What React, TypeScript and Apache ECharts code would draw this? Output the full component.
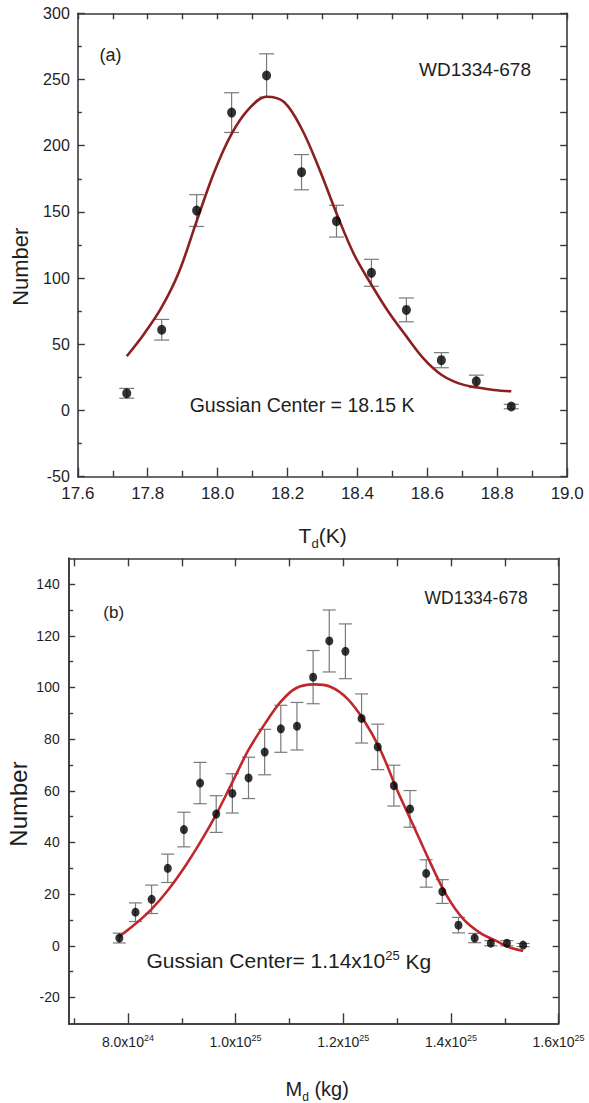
import React, { useEffect, useRef } from 'react';
import * as echarts from 'echarts';

// ---------- Panel (a): dust temperature ----------
const tempX = [17.74, 17.84, 17.94, 18.04, 18.14, 18.24, 18.34, 18.44, 18.54, 18.64, 18.74, 18.84];
const tempN = [13, 61, 151, 225, 253, 180, 143, 104, 76, 38, 22, 3];
const tempErr = [3.7, 7.8, 12, 15, 16.4, 13.3, 12, 10.2, 9, 5.7, 4.7, 1.7];
const tempFitX = [17.74, 17.79, 17.84, 17.89, 17.94, 17.99, 18.04, 18.09, 18.14, 18.19, 18.24, 18.29, 18.34, 18.39, 18.44, 18.49, 18.54, 18.59, 18.64, 18.69, 18.74, 18.79, 18.84];
const tempFitY = [41, 58, 78, 105, 143, 180, 209, 228, 237, 233, 213, 183, 149, 118, 95, 74, 56, 39, 27, 20.5, 17.5, 15.5, 14.5];

// ---------- Panel (b): dust mass (x in units of 1e24 kg) ----------
const massX = [7.84, 8.14, 8.44, 8.74, 9.04, 9.34, 9.64, 9.94, 10.24, 10.54, 10.84, 11.14, 11.44, 11.74, 12.04, 12.34, 12.64, 12.94, 13.24, 13.54, 13.84, 14.14, 14.44, 14.74, 15.04, 15.34];
const massN = [3, 13, 18, 30, 45, 63, 51, 59, 65, 75, 84, 85, 104, 118, 114, 88, 77, 62, 53, 28, 21, 8, 3, 1, 1, 0.3];
const massErr = [1.9, 3.6, 5.5, 5.5, 6.7, 8, 7.1, 7.6, 8, 8.8, 9.1, 9.2, 10.3, 12, 10.6, 9.5, 8.8, 7.9, 7.1, 5.3, 4.6, 3, 1.8, 1, 1, 0.6];
const massFitX = [7.84, 8.13, 8.44, 8.75, 9.06, 9.37, 9.65, 9.93, 10.24, 10.55, 10.84, 11.12, 11.45, 11.76, 12.07, 12.38, 12.69, 13.0, 13.31, 13.62, 13.93, 14.24, 14.55, 14.86, 15.04, 15.34];
const massFitY = [3.6, 8.3, 14.2, 21.7, 30.7, 41, 51.3, 62.9, 75.8, 86.1, 94.5, 99.7, 101.2, 100.3, 95.8, 87.4, 75.8, 60.3, 46.2, 32, 19.1, 10.1, 4.9, 1.7, -0.3, -2];

// tick labels
const massTicks = [8, 10, 12, 14, 16];
const massTickMantissa = ['8.0', '1.0', '1.2', '1.4', '1.6'];
const massTickExponent = ['24', '25', '25', '25', '25'];
const massMinorTicks = [7, 9, 11, 13, 15];
const massTopTicks = [7, 8, 9, 10, 11, 12, 13, 14, 15, 16];
const massYTicks = [-20, 0, 20, 40, 60, 80, 100, 120, 140];
const massYMinor = [-10, 10, 30, 50, 70, 90, 110, 130];
const massYRight = [-20, -10, 0, 10, 20, 30, 40, 50, 60, 70, 80, 90, 100, 110, 120, 130, 140];

const FONT = "'Liberation Sans', Arial, Helvetica, sans-serif";
const AXIS = '#3a3a3a';
const TXT = '#1e1e1e';
const ERR = '#7a7a7a';

const line = { show: true, onZero: false, lineStyle: { color: AXIS, width: 1.6 } };
const noSplit = { show: false };

function errSeries(xi: number, yi: number, xs: number[], ns: number[], es: number[], cap: number) {
  return {
    type: 'custom',
    xAxisIndex: xi,
    yAxisIndex: yi,
    z: 1,
    data: xs.map((x, i) => [x, ns[i] - es[i], ns[i] + es[i]]),
    renderItem: (params: any, api: any) => {
      const x = api.value(0);
      const lo = api.coord([x, api.value(1)]);
      const hi = api.coord([x, api.value(2)]);
      const hw = cap / 2;
      const st = { stroke: ERR, lineWidth: 1.2 };
      return {
        type: 'group',
        children: [
          { type: 'line', shape: { x1: lo[0], y1: lo[1], x2: hi[0], y2: hi[1] }, style: st },
          { type: 'line', shape: { x1: lo[0] - hw, y1: lo[1], x2: lo[0] + hw, y2: lo[1] }, style: st },
          { type: 'line', shape: { x1: hi[0] - hw, y1: hi[1], x2: hi[0] + hw, y2: hi[1] }, style: st },
        ],
      };
    },
  };
}

function txt(text: string, x: number, y: number, size: number, extra: any = {}) {
  return {
    type: 'text',
    x,
    y,
    rotation: extra.rotation || 0,
    style: {
      text,
      fontSize: size,
      fontFamily: FONT,
      fill: TXT,
      align: extra.align || 'left',
      textAlign: extra.align || 'left',
      verticalAlign: 'middle',
      textVerticalAlign: 'middle',
      rich: extra.rich,
    },
  };
}

export default function App() {
  const ref = useRef<HTMLDivElement>(null);
  useEffect(() => {
    const chart = echarts.init(ref.current!, null, { renderer: 'svg' });
    const option: any = {
      animation: false,
      backgroundColor: '#ffffff',
      grid: [
        { left: 77.8, top: 13.3, width: 489.4, height: 463.4 },
        { left: 68.7, top: 558.3, width: 489.9, height: 465 },
      ],
      xAxis: [
        {
          gridIndex: 0, type: 'value', position: 'bottom', min: 17.6, max: 19.0, interval: 0.2,
          axisLine: line,
          axisTick: { show: true, inside: true, length: 9, lineStyle: { color: AXIS, width: 1.4 } },
          minorTick: { show: true, splitNumber: 2, length: 6, lineStyle: { color: AXIS, width: 1.4 } },
          axisLabel: { fontSize: 17, fontFamily: FONT, color: TXT, margin: 8, formatter: (v: number) => v.toFixed(1) },
          splitLine: noSplit, minorSplitLine: noSplit,
        },
        {
          gridIndex: 0, type: 'value', position: 'top', min: 17.6, max: 19.0, interval: 0.2,
          axisLine: line,
          axisTick: { show: true, inside: true, length: 6, lineStyle: { color: AXIS, width: 1.4 } },
          minorTick: { show: true, splitNumber: 2, length: 6, lineStyle: { color: AXIS, width: 1.4 } },
          axisLabel: { show: false }, splitLine: noSplit, minorSplitLine: noSplit,
        },
        {
          gridIndex: 1, type: 'value', position: 'bottom', min: 6.9, max: 16,
          axisLine: line,
          axisTick: { show: true, inside: true, length: 10, customValues: massTicks, lineStyle: { color: AXIS, width: 1.4 } },
          axisLabel: {
            customValues: massTicks,
            margin: 10,
            formatter: (v: number) => {
              const i = massTicks.indexOf(Math.round(v));
              return `{m|${massTickMantissa[i]}x10}{s|${massTickExponent[i]}}`;
            },
            rich: {
              m: { fontSize: 14, fontFamily: FONT, color: TXT, verticalAlign: 'bottom' },
              s: { fontSize: 9, fontFamily: FONT, color: TXT, verticalAlign: 'bottom', padding: [0, 0, 7, 0] },
            },
          },
          splitLine: noSplit,
        },
        {
          gridIndex: 1, type: 'value', position: 'bottom', min: 6.9, max: 16,
          axisLine: line,
          axisTick: { show: true, inside: true, length: 5, customValues: massMinorTicks, lineStyle: { color: AXIS, width: 1.4 } },
          axisLabel: { show: false }, splitLine: noSplit,
        },
        {
          gridIndex: 1, type: 'value', position: 'top', min: 6.9, max: 16,
          axisLine: line,
          axisTick: { show: true, inside: true, length: 8, customValues: massTopTicks, lineStyle: { color: AXIS, width: 1.4 } },
          axisLabel: { show: false }, splitLine: noSplit,
        },
      ],
      yAxis: [
        {
          gridIndex: 0, type: 'value', position: 'left', min: -50, max: 300, interval: 50,
          axisLine: line,
          axisTick: { show: true, inside: true, length: 7, lineStyle: { color: AXIS, width: 1.4 } },
          minorTick: { show: true, splitNumber: 2, length: 4, lineStyle: { color: AXIS, width: 1.4 } },
          axisLabel: { fontSize: 16, fontFamily: FONT, color: TXT, margin: 8 },
          splitLine: noSplit, minorSplitLine: noSplit,
        },
        {
          gridIndex: 0, type: 'value', position: 'right', min: -50, max: 300, interval: 50,
          axisLine: line,
          axisTick: { show: true, inside: true, length: 7, lineStyle: { color: AXIS, width: 1.4 } },
          minorTick: { show: true, splitNumber: 2, length: 7, lineStyle: { color: AXIS, width: 1.4 } },
          axisLabel: { show: false }, splitLine: noSplit, minorSplitLine: noSplit,
        },
        {
          gridIndex: 1, type: 'value', position: 'left', min: -30, max: 150,
          axisLine: line,
          axisTick: { show: true, inside: true, length: 6.5, customValues: massYTicks, lineStyle: { color: AXIS, width: 1.4 } },
          axisLabel: { customValues: massYTicks, fontSize: 14, fontFamily: FONT, color: TXT, margin: 9 },
          splitLine: noSplit,
        },
        {
          gridIndex: 1, type: 'value', position: 'left', min: -30, max: 150,
          axisLine: line,
          axisTick: { show: true, inside: true, length: 4.5, customValues: massYMinor, lineStyle: { color: AXIS, width: 1.4 } },
          axisLabel: { show: false }, splitLine: noSplit,
        },
        {
          gridIndex: 1, type: 'value', position: 'right', min: -30, max: 150,
          axisLine: line,
          axisTick: { show: true, inside: true, length: 6, customValues: massYRight, lineStyle: { color: AXIS, width: 1.4 } },
          axisLabel: { show: false }, splitLine: noSplit,
        },
      ],
      series: [
        errSeries(0, 0, tempX, tempN, tempErr, 15),
        {
          type: 'line', xAxisIndex: 0, yAxisIndex: 0, z: 2, symbol: 'none', smooth: 0.35,
          data: tempFitX.map((x, i) => [x, tempFitY[i]]),
          lineStyle: { color: '#8c2020', width: 2.6 },
        },
        {
          type: 'scatter', xAxisIndex: 0, yAxisIndex: 0, z: 3, symbol: 'circle', symbolSize: [9, 10],
          data: tempX.map((x, i) => [x, tempN[i]]),
          itemStyle: { color: '#000000' },
        },
        errSeries(2, 2, massX, massN, massErr, 13),
        {
          type: 'line', xAxisIndex: 2, yAxisIndex: 2, z: 2, symbol: 'none', smooth: 0.35,
          data: massFitX.map((x, i) => [x, massFitY[i]]),
          lineStyle: { color: '#c0282b', width: 2.6 },
        },
        {
          type: 'scatter', xAxisIndex: 2, yAxisIndex: 2, z: 3, symbol: 'circle', symbolSize: [8, 9],
          data: massX.map((x, i) => [x, massN[i]]),
          itemStyle: { color: '#000000' },
        },
      ],
      graphic: [
        txt('(a)', 99.5, 55, 18),
        txt('WD1334-678', 419, 69, 19),
        txt('Gussian Center = 18.15 K', 189.7, 405, 19.5),
        txt('Number', 20.6, 266.7, 22, { rotation: Math.PI / 2, align: 'center' }),
        txt('{m|T}{d|d}{m|(K)}', 298.6, 537, 21, {
          rich: {
            m: { fontSize: 21, fontFamily: FONT, fill: TXT, color: TXT, verticalAlign: 'top' },
            d: { fontSize: 13, fontFamily: FONT, fill: TXT, color: TXT, verticalAlign: 'top', padding: [12, 0, 0, 0] },
          },
        }),
        txt('(b)', 103.3, 612, 17),
        txt('WD1334-678', 424.5, 597.5, 17.5),
        txt('Gussian Center= 1.14x10{s|25}{m| Kg}', 146.5, 960, 21, {
          rich: {
            m: { fontSize: 21, fontFamily: FONT, fill: TXT, color: TXT, verticalAlign: 'bottom' },
            s: { fontSize: 13, fontFamily: FONT, fill: TXT, color: TXT, verticalAlign: 'bottom', padding: [0, 0, 10, 0] },
          },
        }),
        txt('Number', 18.8, 804, 24, { rotation: Math.PI / 2, align: 'center' }),
        txt('{m|M}{d|d}{m| (kg)}', 285.5, 1091, 20, {
          rich: {
            m: { fontSize: 20, fontFamily: FONT, fill: TXT, color: TXT, verticalAlign: 'top' },
            d: { fontSize: 12, fontFamily: FONT, fill: TXT, color: TXT, verticalAlign: 'top', padding: [12, 0, 0, 0] },
          },
        }),
      ],
    };
    chart.setOption(option);
    return () => chart.dispose();
  }, []);
  return (
    <div
      ref={ref}
      style={{ position: 'absolute', left: 0, top: 0, width: 589, height: 1103, background: '#fff' }}
    />
  );
}
